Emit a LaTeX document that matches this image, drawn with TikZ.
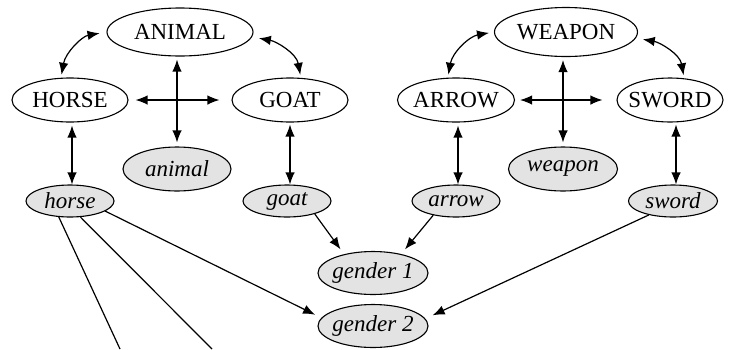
\documentclass[tikz,border=0pt]{standalone}
\usepackage{fontspec}
\setmainfont{Liberation Serif}
\usetikzlibrary{shapes.geometric,arrows.meta}
\definecolor{wordgray}{gray}{0.89}
\begin{document}
\begin{tikzpicture}[x=1pt,y=1pt,
  concept/.style={draw,ellipse,inner xsep=-6pt,inner ysep=0pt,line width=1.1pt,
    font=\fontsize{23}{27}\selectfont},
  word/.style={concept,fill=wordgray,font=\fontsize{23}{27}\selectfont\itshape},
  link/.style={line width=1.2pt,{Latex[length=12pt,width=9.5pt]}-{Latex[length=12pt,width=9.5pt]}},
  feed/.style={line width=1.2pt,-{Latex[length=12pt,width=9.5pt]}},
  plain/.style={line width=1.2pt}]
\useasboundingbox (0,0) rectangle (729,-349);

% animal concepts
\node[concept,minimum width=146pt,minimum height=48pt] (ANIMAL) at (180,-32) {ANIMAL};
\node[concept,minimum width=116pt,minimum height=44pt] (HORSE) at (70,-100) {HORSE};
\node[concept,minimum width=116pt,minimum height=44pt] (GOAT) at (290,-100) {GOAT};
\node[word,minimum width=108pt,minimum height=44pt] (animal) at (177,-169) {animal};
\node[word,minimum width=88pt,minimum height=32pt] (horse) at (70,-201) {horse};
\node[word,minimum width=88pt,minimum height=32pt] (goat) at (287,-201) {goat};

% weapon concepts
\node[concept,minimum width=143pt,minimum height=49pt] (WEAPON) at (566,-32) {WEAPON};
\node[concept,minimum width=117pt,minimum height=44pt] (ARROW) at (456,-100) {ARROW};
\node[concept,minimum width=106pt,minimum height=44pt] (SWORD) at (670,-100) {SWORD};
\node[word,minimum width=109pt,minimum height=44pt] (weapon) at (563,-169) {weapon};
\node[word,minimum width=88pt,minimum height=32pt] (arrow) at (456,-201) {arrow};
\node[word,minimum width=89pt,minimum height=32pt] (sword) at (673,-201) {sword};

% gender nodes
\node[word,minimum width=110pt,minimum height=43pt] (gender1) at (373,-273) {gender 1};
\node[word,minimum width=110pt,minimum height=43pt] (gender2) at (373,-326) {gender 2};

% free ends of the lines leaving the bottom edge
\coordinate (h1) at (120,-349);
\coordinate (h2) at (212,-349);

% animal links
\draw[link,shorten <=7pt,shorten >=3pt] (ANIMAL.west) to[out=190,in=80] (HORSE.112);
\draw[link,shorten <=7pt,shorten >=3pt] (ANIMAL.-4) to[out=-10,in=100] (GOAT.64);
\draw[link,shorten <=7pt,shorten >=12pt] (HORSE.east) -- (GOAT.west);
\draw[link,shorten <=3pt,shorten >=4pt] (animal.north |- ANIMAL.south) -- (animal.north);
\draw[link,shorten <=3pt] ([xshift=2pt]HORSE.south) -- ([xshift=2pt]HORSE.south |- horse.north);
\draw[link,shorten <=2pt] (GOAT.south) -- (GOAT.south |- goat.north);

% weapon links
\draw[link,shorten <=5pt,shorten >=3pt] (WEAPON.west) to[out=190,in=80] (ARROW.110);
\draw[link,shorten <=7pt,shorten >=3pt] (WEAPON.-5) to[out=-10,in=100] (SWORD.57);
\draw[link,shorten <=5pt,shorten >=14pt] (ARROW.east) -- (SWORD.west);
\draw[link,shorten <=3pt,shorten >=4pt] (weapon.north |- WEAPON.south) -- (weapon.north);
\draw[link,shorten <=3pt] ([xshift=2pt]ARROW.south) -- ([xshift=2pt]ARROW.south |- arrow.north);
\draw[link,shorten <=2pt] ([xshift=3pt]sword.north |- SWORD.south) -- ([xshift=3pt]sword.north);

% gender assignments
\draw[feed,shorten >=6pt] (goat.-25) -- (gender1.147);
\draw[feed,shorten >=6pt] (arrow.-148) -- (gender1.34);
\draw[feed,shorten >=7pt] (horse.-16) -- (gender2.171);
\draw[feed,shorten >=8pt] (sword.-150) -- (gender2.8);
\draw[plain] (horse.-125) -- (h1);
\draw[plain] (horse.-57) -- (h2);
\end{tikzpicture}
\end{document}
